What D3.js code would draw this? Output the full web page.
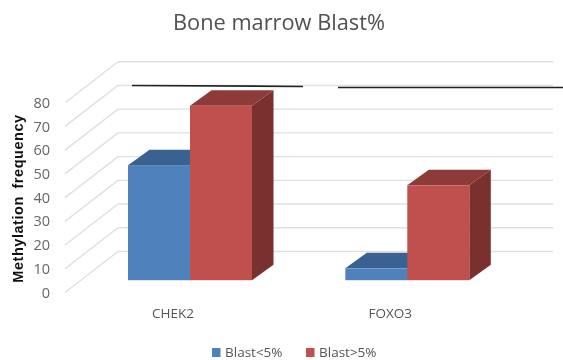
<!DOCTYPE html>
<html>
<head>
<meta charset="utf-8">
<script src="https://cdn.jsdelivr.net/npm/d3@7"></script>
<style>
    html, body { margin: 0; padding: 0; background: #fff; }
    svg { display: block; filter: blur(0.45px); }
    text { font-family: "Open Sans", sans-serif; }
</style>
</head>
<body>
<svg id="chart" width="563" height="360"></svg>
<script>
const categories = ["CHEK2", "FOXO3"];
const seriesNames = ["Blast<5%", "Blast>5%"];
const blastLow = [48.5, 5];
const blastHigh = [73.5, 40];
const yTicks = [0, 10, 20, 30, 40, 50, 60, 70, 80];

const seriesColors = {
    "Blast<5%": { front: "#4f81bd", top: "#3a6291", side: "#2f4f77" },
    "Blast>5%": { front: "#c0504d", top: "#8e3a38", side: "#79302e" }
};

const svg = d3.select("#chart");

// front edge of the floor, the back wall sits up and to the right of it
const wall = { dx: 53, dy: -41, right: 553 };
const bar = { dx: 21.5, dy: -15.5, floor: -12.3 };

const y = d3.scaleLinear().domain([0, 80]).range([292.5, 102.7]);
const x0 = d3.scalePoint().domain(categories).range([190, 407.3]);
const x1 = d3.scaleBand().domain(seriesNames).range([-62, 62]);
const axisX = 65;

const rows = seriesNames.map((name, s) => ({
    name,
    values: s === 0 ? blastLow : blastHigh
}));

// walls
const grid = svg.append("g")
    .attr("fill", "none")
    .attr("stroke", "#e0e0e0")
    .attr("stroke-width", 1.4);

grid.selectAll(".back")
    .data(yTicks)
    .join("line")
    .attr("class", "back")
    .attr("x1", axisX + wall.dx)
    .attr("x2", wall.right)
    .attr("y1", d => y(d) + wall.dy)
    .attr("y2", d => y(d) + wall.dy);

grid.selectAll(".side")
    .data(yTicks)
    .join("line")
    .attr("class", "side")
    .attr("x1", axisX)
    .attr("x2", axisX + wall.dx)
    .attr("y1", d => y(d))
    .attr("y2", d => y(d) + wall.dy);

// the two dark strokes lying on the 70 gridline
const darkY = y(70) + wall.dy;
const strokes = [[132, 303, 0, 1], [338, 563, 2, 2]];
svg.append("g")
    .attr("stroke", "#222")
    .attr("stroke-width", 1.6)
    .selectAll("line")
    .data(strokes)
    .join("line")
    .attr("x1", d => d[0])
    .attr("x2", d => d[1])
    .attr("y1", d => darkY + d[2])
    .attr("y2", d => darkY + d[3]);

// bars
const groups = svg.append("g")
    .selectAll("g")
    .data(categories)
    .join("g")
    .attr("transform", d => "translate(" + x0(d) + ",0)");

groups.each(function (cat, c) {
    const g = d3.select(this);
    rows.forEach(row => {
        const col = seriesColors[row.name];
        const left = x1(row.name);
        const right = left + x1.bandwidth();
        const base = y(0) + bar.floor;
        const top = y(row.values[c]) + bar.floor;

        g.append("path")
            .attr("fill", col.side)
            .attr("d", d3.line()([
                [right, top], [right + bar.dx, top + bar.dy],
                [right + bar.dx, base + bar.dy], [right, base]
            ]) + "Z");

        g.append("path")
            .attr("fill", col.top)
            .attr("d", d3.line()([
                [left, top], [left + bar.dx, top + bar.dy],
                [right + bar.dx, top + bar.dy], [right, top]
            ]) + "Z");

        g.append("rect")
            .attr("x", left)
            .attr("y", top)
            .attr("width", x1.bandwidth())
            .attr("height", base - top)
            .attr("fill", col.front);
    });
});

// y axis
const axisG = svg.append("g")
    .attr("transform", "translate(58,0)")
    .call(d3.axisLeft(y).tickValues(yTicks).tickSize(0).tickPadding(8));
axisG.select(".domain").remove();
axisG.selectAll("text")
    .attr("fill", "#666")
    .style("font-size", "14.5px");

svg.append("text")
    .attr("transform", "translate(23,198.5) rotate(-90)")
    .attr("text-anchor", "middle")
    .attr("fill", "#111")
    .style("font-family", "'Liberation Sans', sans-serif")
    .style("font-size", "14.5px")
    .style("font-weight", "bold")
    .style("letter-spacing", "0.55px")
    .style("word-spacing", "3px")
    .text("Methylation frequency");

// category labels
svg.append("g")
    .selectAll("text")
    .data(categories)
    .join("text")
    .attr("x", d => x0(d) - 17)
    .attr("y", 318)
    .attr("text-anchor", "middle")
    .attr("fill", "#555")
    .style("font-size", "13.5px")
    .text(d => d);

svg.append("text")
    .attr("x", 279)
    .attr("y", 30)
    .attr("text-anchor", "middle")
    .attr("fill", "#505050")
    .style("font-size", "21.8px")
    .text("Bone marrow Blast%");

// legend
const legendX = d3.scalePoint().domain(seriesNames).range([212, 306]);
const legend = svg.append("g")
    .selectAll("g")
    .data(seriesNames)
    .join("g")
    .attr("transform", d => "translate(" + legendX(d) + ",348)");

legend.append("rect")
    .attr("width", 8.5)
    .attr("height", 9)
    .attr("fill", d => seriesColors[d].front);

legend.append("text")
    .attr("x", 13)
    .attr("y", 9)
    .attr("fill", "#555")
    .style("font-size", "13.5px")
    .text(d => d);
</script>
</body>
</html>
